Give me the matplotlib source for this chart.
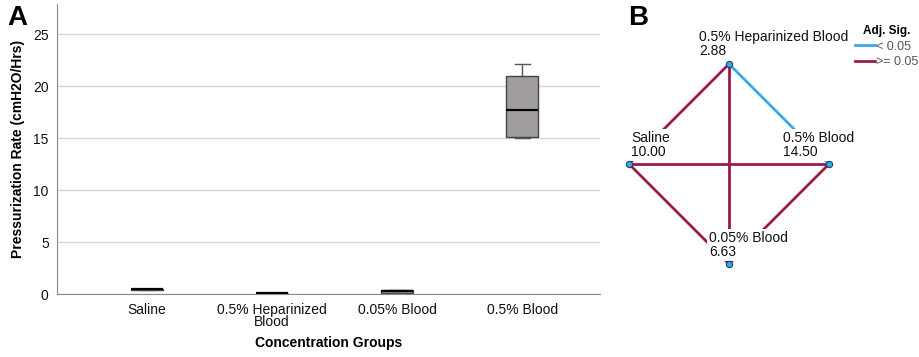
import matplotlib.pyplot as plt
from matplotlib.lines import Line2D

plt.rcParams["font.family"] = ["Liberation Sans", "DejaVu Sans"]

# ── panel A data: box summaries per group ────────────────────────────────────
groups = ["Saline", "0.5% Heparinized\nBlood", "0.05% Blood", "0.5% Blood"]
whislo = [0.40, 0.06, 0.10, 15.0]
q1 = [0.42, 0.08, 0.15, 15.1]
med = [0.46, 0.11, 0.30, 17.7]
q3 = [0.50, 0.14, 0.38, 21.0]
whishi = [0.52, 0.16, 0.42, 22.1]

# ── panel B data: pairwise comparison network ────────────────────────────────
node_names = ["0.5% Heparinized Blood", "Saline", "0.5% Blood", "0.05% Blood"]
mean_ranks = [2.88, 10.00, 14.50, 6.63]
edges = [(0, 1), (0, 2), (0, 3), (1, 2), (1, 3), (2, 3)]
edge_sig = [False, True, False, False, False, False]

BOX_FILL = "#a19d9d"
EDGE_GREY = "#555555"
SIG_BLUE = "#3ba7e8"
NS_RED = "#9a1a4e"

fig = plt.figure(figsize=(9.2, 3.57), dpi=100)

# ── panel A ──────────────────────────────────────────────────────────────────
ax = fig.add_axes([0.062, 0.176, 0.590, 0.813])
stats = [
    dict(whislo=a, q1=b, med=c, q3=d, whishi=e, fliers=[])
    for a, b, c, d, e in zip(whislo, q1, med, q3, whishi)
]
ax.bxp(
    stats,
    positions=range(1, len(groups) + 1),
    widths=0.256,
    patch_artist=True,
    boxprops=dict(facecolor=BOX_FILL, edgecolor="#444444", linewidth=1.0),
    medianprops=dict(color="black", linewidth=1.6),
    whiskerprops=dict(color=EDGE_GREY, linewidth=1.0),
    capprops=dict(color=EDGE_GREY, linewidth=1.0),
    capwidths=0.12,
    zorder=3,
)
ax.set_xlim(0.28, 4.62)
ax.set_ylim(0, 27.9)
ax.set_yticks([0, 5, 10, 15, 20, 25])
ax.set_xticks(range(1, len(groups) + 1))
ax.set_xticklabels(groups, linespacing=0.9)
ax.tick_params(length=0, labelsize=10, colors="#111111", pad=6)
ax.grid(axis="y", color="#d6d6d6", linewidth=1.0, zorder=0)
ax.set_axisbelow(True)
for s in ("top", "right"):
    ax.spines[s].set_visible(False)
ax.spines["left"].set_color("#8a8a8a")
ax.spines["bottom"].set_color("#8a8a8a")
ax.set_ylabel("Pressurization Rate (cmH2O/Hrs)", fontsize=10, fontweight="bold", labelpad=6)
ax.set_xlabel("Concentration Groups", fontsize=10, fontweight="bold", labelpad=5)

fig.text(0.008, 0.985, "A", fontsize=20, fontweight="bold", va="top")
fig.text(0.683, 0.985, "B", fontsize=20, fontweight="bold", va="top")

# ── panel B ──────────────────────────────────────────────────────────────────
axb = fig.add_axes([600 / 920, 0, 320 / 920, 1])
axb.set_xlim(-1.29, 1.91)
axb.set_ylim(-1.93, 1.64)
axb.axis("off")

node_xy = [(0, 1), (-1, 0), (1, 0), (0, -1)]   # diamond layout
label_off = [(-0.30, 0.06), (0.02, 0.05), (-0.46, 0.05), (-0.20, 0.05)]

for (i, j), sig in zip(edges, edge_sig):
    (x0, y0), (x1, y1) = node_xy[i], node_xy[j]
    axb.plot([x0, x1], [y0, y1], color=SIG_BLUE if sig else NS_RED,
             linewidth=2.0, zorder=1, solid_capstyle="butt")

for (x, y), (dx, dy), name, rank in zip(node_xy, label_off, node_names, mean_ranks):
    axb.text(x + dx, y + dy, f"{name}\n{rank:.2f}", fontsize=10, ha="left",
             va="bottom", linespacing=1.0, color="#111111", zorder=2,
             bbox=dict(facecolor="white", edgecolor="none", pad=1.5))
    axb.plot(x, y, "o", markersize=4.5, markerfacecolor=SIG_BLUE,
             markeredgecolor="#1d3f6e", markeredgewidth=0.8, zorder=3)

handles = [Line2D([], [], color=SIG_BLUE, linewidth=2.0),
           Line2D([], [], color=NS_RED, linewidth=2.0)]
leg = axb.legend(handles, ["< 0.05", ">= 0.05"], title="Adj. Sig.",
                 loc="upper right", bbox_to_anchor=(1.022, 0.955), frameon=False,
                 fontsize=9, title_fontproperties=dict(size=8.5, weight="bold"),
                 handlelength=1.6, handletextpad=0.1, labelspacing=0.3,
                 borderpad=0.2, labelcolor="#555555")

fig.savefig("out.png", dpi=100, facecolor="white")
